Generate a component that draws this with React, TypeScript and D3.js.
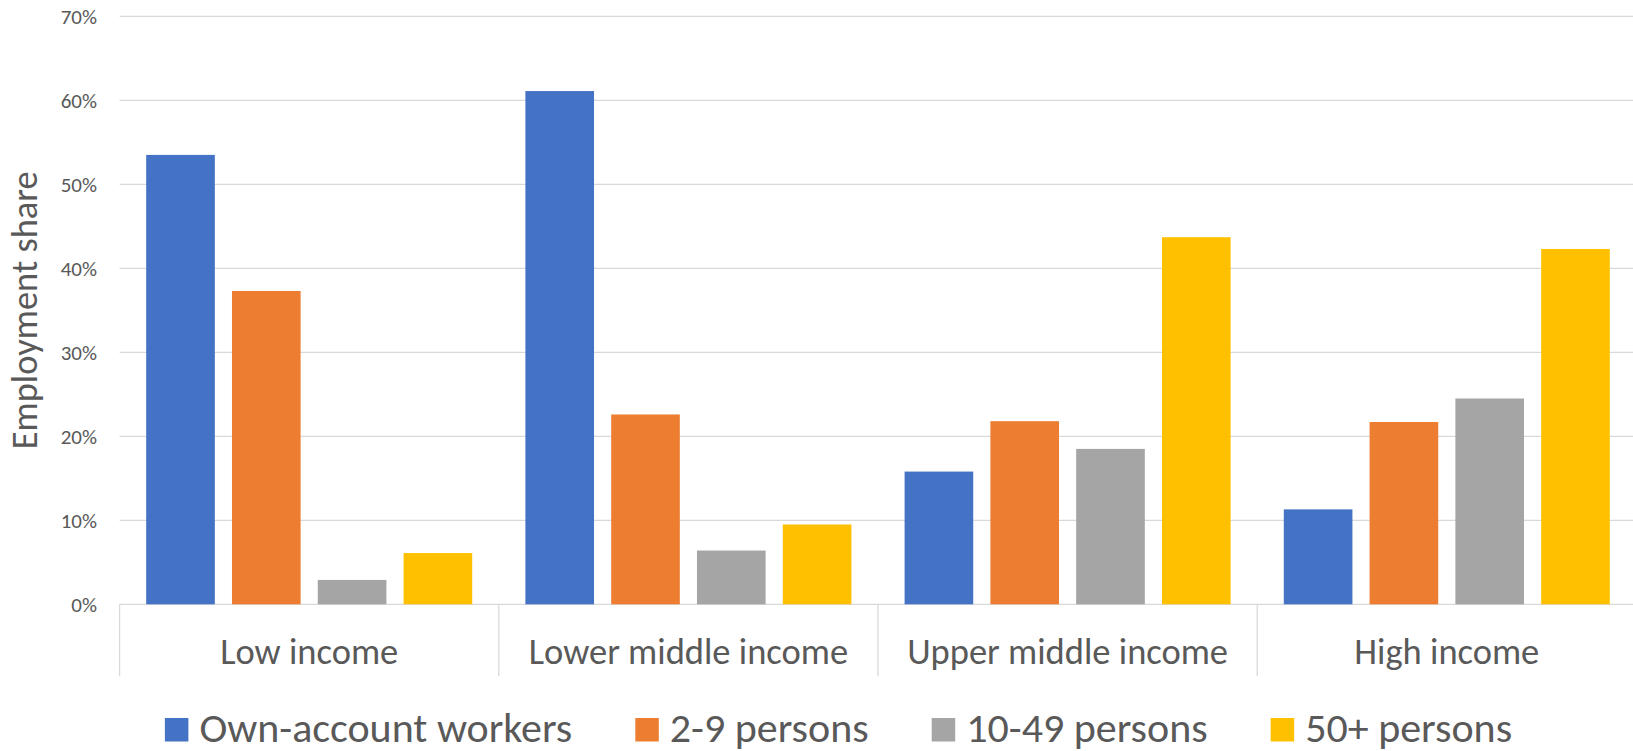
import * as React from "react";
import { useEffect, useRef } from "react";
import { select, scaleBand, scaleLinear } from "d3";

const categories = ["Low income", "Lower middle income", "Upper middle income", "High income"];
const seriesNames = ["Own-account workers", "2-9 persons", "10-49 persons", "50+ persons"];
const ownAccount = [53.5, 61.1, 15.8, 11.3];
const persons2to9 = [37.3, 22.6, 21.8, 21.7];
const persons10to49 = [2.9, 6.4, 18.5, 24.5];
const persons50plus = [6.1, 9.5, 43.7, 42.3];
const yTicks = [0, 10, 20, 30, 40, 50, 60, 70];
const colors = ["#4472C4", "#ED7D31", "#A5A5A5", "#FFC000"];

const seriesValues = [ownAccount, persons2to9, persons10to49, persons50plus];

const width = 1633, height = 751;
const plot = { left: 119.6, right: 1636.4, top: 16.3, bottom: 604.3 };
const font = "Carlito, Calibri, Lato, sans-serif";
const textColor = "#595959";
const gridColor = "#D9D9D9";

const EmploymentChart: React.FC = () => {
    const node = useRef<SVGSVGElement>(null);

    useEffect(() => {
        if (!node.current) return;
        const svg = select(node.current);
        svg.selectAll("*").remove();

        const x0 = scaleBand<string>().domain(categories).range([plot.left, plot.right]);
        const x1 = scaleBand<string>().domain(seriesNames).range([0, x0.bandwidth()])
            .paddingInner(0.2).paddingOuter(0.31);
        const y = scaleLinear().domain([0, 70]).range([plot.bottom, plot.top]);

        // gridlines
        svg.append("g").selectAll("line").data(yTicks).join("line")
            .attr("x1", plot.left).attr("x2", plot.right)
            .attr("y1", d => y(d)).attr("y2", d => y(d))
            .attr("stroke", gridColor).attr("stroke-width", 1.3);

        // y tick labels
        svg.append("g").selectAll("text").data(yTicks).join("text")
            .attr("x", 97).attr("y", d => y(d)).attr("dy", "0.36em")
            .attr("text-anchor", "end")
            .attr("font-family", font).attr("font-size", 21).attr("fill", textColor)
            .text(d => d + "%");

        // axis title
        svg.append("text")
            .attr("transform", `translate(37,${(plot.top + plot.bottom) / 2}) rotate(-90)`)
            .attr("text-anchor", "middle")
            .attr("font-family", font).attr("font-size", 36.5).attr("fill", textColor)
            .text("Employment share");

        // bars
        const groups = svg.append("g").selectAll("g").data(categories).join("g")
            .attr("transform", c => `translate(${x0(c)},0)`);
        groups.selectAll("rect")
            .data((c, i) => seriesNames.map((s, j) => ({ s, j, v: seriesValues[j][i] })))
            .join("rect")
            .attr("x", d => x1(d.s) as number)
            .attr("width", x1.bandwidth())
            .attr("y", d => y(d.v))
            .attr("height", d => y(0) - y(d.v))
            .attr("fill", d => colors[d.j]);

        // category axis separators
        const bounds = categories.map(c => x0(c) as number).concat([plot.right]);
        svg.append("g").selectAll("line").data(bounds).join("line")
            .attr("x1", d => d).attr("x2", d => d)
            .attr("y1", plot.bottom).attr("y2", 676)
            .attr("stroke", gridColor).attr("stroke-width", 1.3);

        // category labels
        svg.append("g").selectAll("text").data(categories).join("text")
            .attr("x", c => (x0(c) as number) + x0.bandwidth() / 2)
            .attr("y", 664)
            .attr("text-anchor", "middle")
            .attr("font-family", font).attr("font-size", 36.5).attr("fill", textColor)
            .text(c => c);

        // legend
        const legend = svg.append("g");
        const box = 23.5, boxGap = 11, itemGap = 63;
        const items = seriesNames.map((name, i) => {
            const g = legend.append("g");
            g.append("rect").attr("width", box).attr("height", box)
                .attr("y", 718).attr("fill", colors[i]);
            const t = g.append("text").attr("x", box + boxGap).attr("y", 741.5)
                .attr("font-family", font).attr("font-size", 42).attr("fill", textColor)
                .text(name);
            const w = (t.node() as SVGTextElement).getComputedTextLength();
            return { g, w: box + boxGap + w };
        });
        const total = items.reduce((a, it) => a + it.w, 0) + itemGap * (items.length - 1);
        let cx = 838.5 - total / 2;
        items.forEach(it => {
            it.g.attr("transform", `translate(${cx},0)`);
            cx += it.w + itemGap;
        });
    }, []);

    return <svg width={width} height={height} ref={node}
                style={{ position: "absolute", left: 0, top: 0, background: "#fff" }}/>;
};

export default function App() {
    return <EmploymentChart/>;
}
